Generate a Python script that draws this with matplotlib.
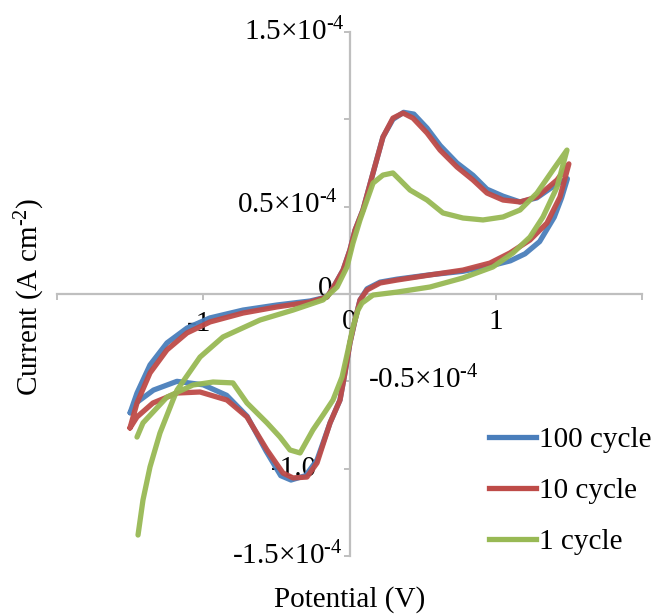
import matplotlib
matplotlib.use("Agg")
import matplotlib.pyplot as plt
from matplotlib.lines import Line2D

plt.rcParams["font.family"] = ["Liberation Serif", "DejaVu Serif"]
plt.rcParams["mathtext.fontset"] = "custom"
plt.rcParams["mathtext.rm"] = "Liberation Serif"
plt.rcParams["mathtext.it"] = "Liberation Serif:italic"
plt.rcParams["mathtext.bf"] = "Liberation Serif:bold"

# Cyclic voltammograms: potential (V) and current density (10^-4 A cm^-2)
# Each loop: anodic branch (left -> right) followed by cathodic branch (right -> left)
pot_100 = [-1.50, -1.453, -1.364, -1.248, -1.111, -0.954, -0.728, -0.496, -0.270, -0.154,
           -0.113, -0.044, 0.003, 0.038, 0.092, 0.161, 0.229, 0.297, 0.37, 0.44,
           0.53, 0.62, 0.735, 0.844, 0.94, 1.05, 1.166, 1.28, 1.40, 1.49,
           1.45, 1.40, 1.30, 1.20, 1.10, 0.96, 0.776, 0.55, 0.325, 0.209,
           0.12, 0.072, 0.038, 0.003, -0.031, -0.065, -0.133, -0.222, -0.30, -0.40,
           -0.47, -0.57, -0.70, -0.84, -1.0, -1.18, -1.34, -1.453, -1.50]
cur_100 = [-0.68, -0.567, -0.406, -0.28, -0.195, -0.137, -0.092, -0.063, -0.040, -0.017,
           0.034, 0.137, 0.252, 0.366, 0.481, 0.693, 0.899, 1.0, 1.04, 1.03,
           0.95, 0.85, 0.75, 0.68, 0.60, 0.56, 0.527, 0.55, 0.62, 0.66,
           0.55, 0.44, 0.30, 0.23, 0.19, 0.16, 0.13, 0.11, 0.085, 0.068,
           0.03, -0.034, -0.149, -0.28, -0.452, -0.607, -0.738, -0.95, -1.04, -1.065,
           -1.04, -0.90, -0.70, -0.58, -0.52, -0.50, -0.55, -0.62, -0.68]

pot_10 = [-1.501, -1.453, -1.364, -1.248, -1.111, -0.954, -0.728, -0.496, -0.270, -0.154,
          -0.113, -0.044, 0.003, 0.038, 0.092, 0.161, 0.229, 0.297, 0.366, 0.434,
          0.530, 0.619, 0.735, 0.844, 0.940, 1.050, 1.166, 1.282, 1.419, 1.50,
          1.439, 1.350, 1.234, 1.097, 0.960, 0.776, 0.550, 0.325, 0.209, 0.120,
          0.072, 0.038, 0.003, -0.031, -0.065, -0.133, -0.222, -0.291, -0.386, -0.455,
          -0.564, -0.701, -0.838, -1.022, -1.179, -1.344, -1.453, -1.501]
cur_10 = [-0.767, -0.624, -0.452, -0.320, -0.223, -0.160, -0.109, -0.074, -0.046, -0.017,
          0.034, 0.137, 0.252, 0.366, 0.481, 0.693, 0.899, 1.007, 1.036, 1.007,
          0.922, 0.824, 0.727, 0.653, 0.578, 0.538, 0.527, 0.555, 0.653, 0.745,
          0.555, 0.406, 0.309, 0.235, 0.177, 0.137, 0.109, 0.080, 0.063, 0.023,
          -0.034, -0.149, -0.280, -0.452, -0.607, -0.738, -0.967, -1.048, -1.053, -1.025,
          -0.893, -0.704, -0.607, -0.561, -0.567, -0.624, -0.704, -0.767]

pot_1 = [-1.446, -1.412, -1.364, -1.296, -1.207, -1.179, -1.022, -0.865, -0.612, -0.386,
         -0.181, -0.085, -0.017, 0.024, 0.072, 0.120, 0.161, 0.229, 0.297, 0.345,
         0.414, 0.530, 0.639, 0.776, 0.913, 1.050, 1.166, 1.282, 1.391, 1.487,
         1.419, 1.323, 1.234, 1.118, 0.981, 0.776, 0.550, 0.325, 0.161, 0.085,
         0.058, 0.024, -0.010, -0.051, -0.113, -0.181, -0.250, -0.338, -0.407, -0.475,
         -0.564, -0.701, -0.797, -0.933, -1.070, -1.248, -1.412, -1.453]
cur_1 = [-1.380, -1.179, -0.990, -0.796, -0.607, -0.550, -0.361, -0.246, -0.149, -0.092,
         -0.034, 0.040, 0.155, 0.292, 0.424, 0.538, 0.635, 0.681, 0.693, 0.653,
         0.595, 0.538, 0.464, 0.435, 0.424, 0.441, 0.481, 0.578, 0.710, 0.824,
         0.612, 0.441, 0.326, 0.235, 0.155, 0.092, 0.040, 0.011, -0.006, -0.052,
         -0.092, -0.189, -0.321, -0.475, -0.607, -0.693, -0.778, -0.910, -0.893, -0.819,
         -0.738, -0.624, -0.509, -0.504, -0.521, -0.590, -0.738, -0.819]

series_labels = ["100 cycle", "10 cycle", "1 cycle"]
series_colors = ["#4a7ebb", "#be4b48", "#98b954"]

x_ticks = [-2, -1, 0, 1, 2]
y_ticks = [-1.5, -1.0, -0.5, 0.0, 0.5, 1.0, 1.5]

W, H, DPI = 659, 614, 100
fig = plt.figure(figsize=(W / DPI, H / DPI), dpi=DPI)
ax = fig.add_axes([57 / W, 1 - 556 / H, (642 - 57) / W, (556 - 32) / H])
ax.set_xlim(-2, 2)
ax.set_ylim(-1.5, 1.5)

axis_grey = "#bfbfbf"
for side in ("top", "right"):
    ax.spines[side].set_visible(False)
for side in ("left", "bottom"):
    ax.spines[side].set_position(("data", 0))
    ax.spines[side].set_color(axis_grey)
    ax.spines[side].set_linewidth(1.6)
    ax.spines[side].set_zorder(1)
ax.set_xticks(x_ticks)
ax.set_yticks(y_ticks)
ax.tick_params(axis="both", direction="out", length=4.5, width=1.4, color=axis_grey,
               labelbottom=False, labelleft=False)

lw = 3.8
series = [(pot_100, cur_100), (pot_10, cur_10), (pot_1, cur_1)]
for (p, c), col, lab in zip(series, series_colors, series_labels):
    ax.plot(p, c, color=col, lw=lw, label=lab, zorder=3, solid_joinstyle="round",
            solid_capstyle="round", alpha=0.95)

fs = 21
txt = dict(fontsize=fs, color="black")
HY = "\u2010"  # typographic hyphen, keeps the exponent sign short
EXP = r"×10$^{\mathregular{" + HY + "4}}$"
# tick labels placed around the centred axes
ax.text(-0.03, 1.5, "1.5" + EXP, ha="right", va="center", zorder=2, **txt)
ax.text(-0.08, 0.51, "0.5" + EXP, ha="right", va="center", zorder=2, **txt)
ax.text(-0.17, 0.03, "0", ha="center", va="center", zorder=2, **txt)
ax.text(0.126, -0.49, "-0.5" + EXP, ha="left", va="center", zorder=2, **txt)
ax.text(-0.38, -1.0, "-1.0", ha="center", va="center", zorder=2, **txt)
ax.text(-0.05, -1.5, "-1.5" + EXP, ha="right", va="center", zorder=2, **txt)
ax.text(-1.03, -0.17, "-1", ha="center", va="center", zorder=2, **txt)
ax.text(0.0, -0.16, "0", ha="center", va="center", zorder=2, **txt)
ax.text(1.0, -0.16, "1", ha="center", va="center", zorder=2, **txt)

fig.text(30 / W, 1 - 297 / H, r"Current (A cm$^{\mathregular{" + HY + "2}}$)", rotation=90,
         ha="center", va="center", fontsize=fs)
fig.text(350 / W, 1 - 600 / H, "Potential (V)", ha="center", va="center", fontsize=fs)

handles = [Line2D([], [], color=c, lw=lw) for c in series_colors]
fig.legend(handles, series_labels, loc="upper left",
           bbox_to_anchor=(489 / W, 1 - 427 / H), frameon=False, fontsize=fs,
           handlelength=1.6, handletextpad=0.1, labelspacing=0.84, borderaxespad=0,
           borderpad=0)

fig.savefig("out.png", dpi=DPI)
